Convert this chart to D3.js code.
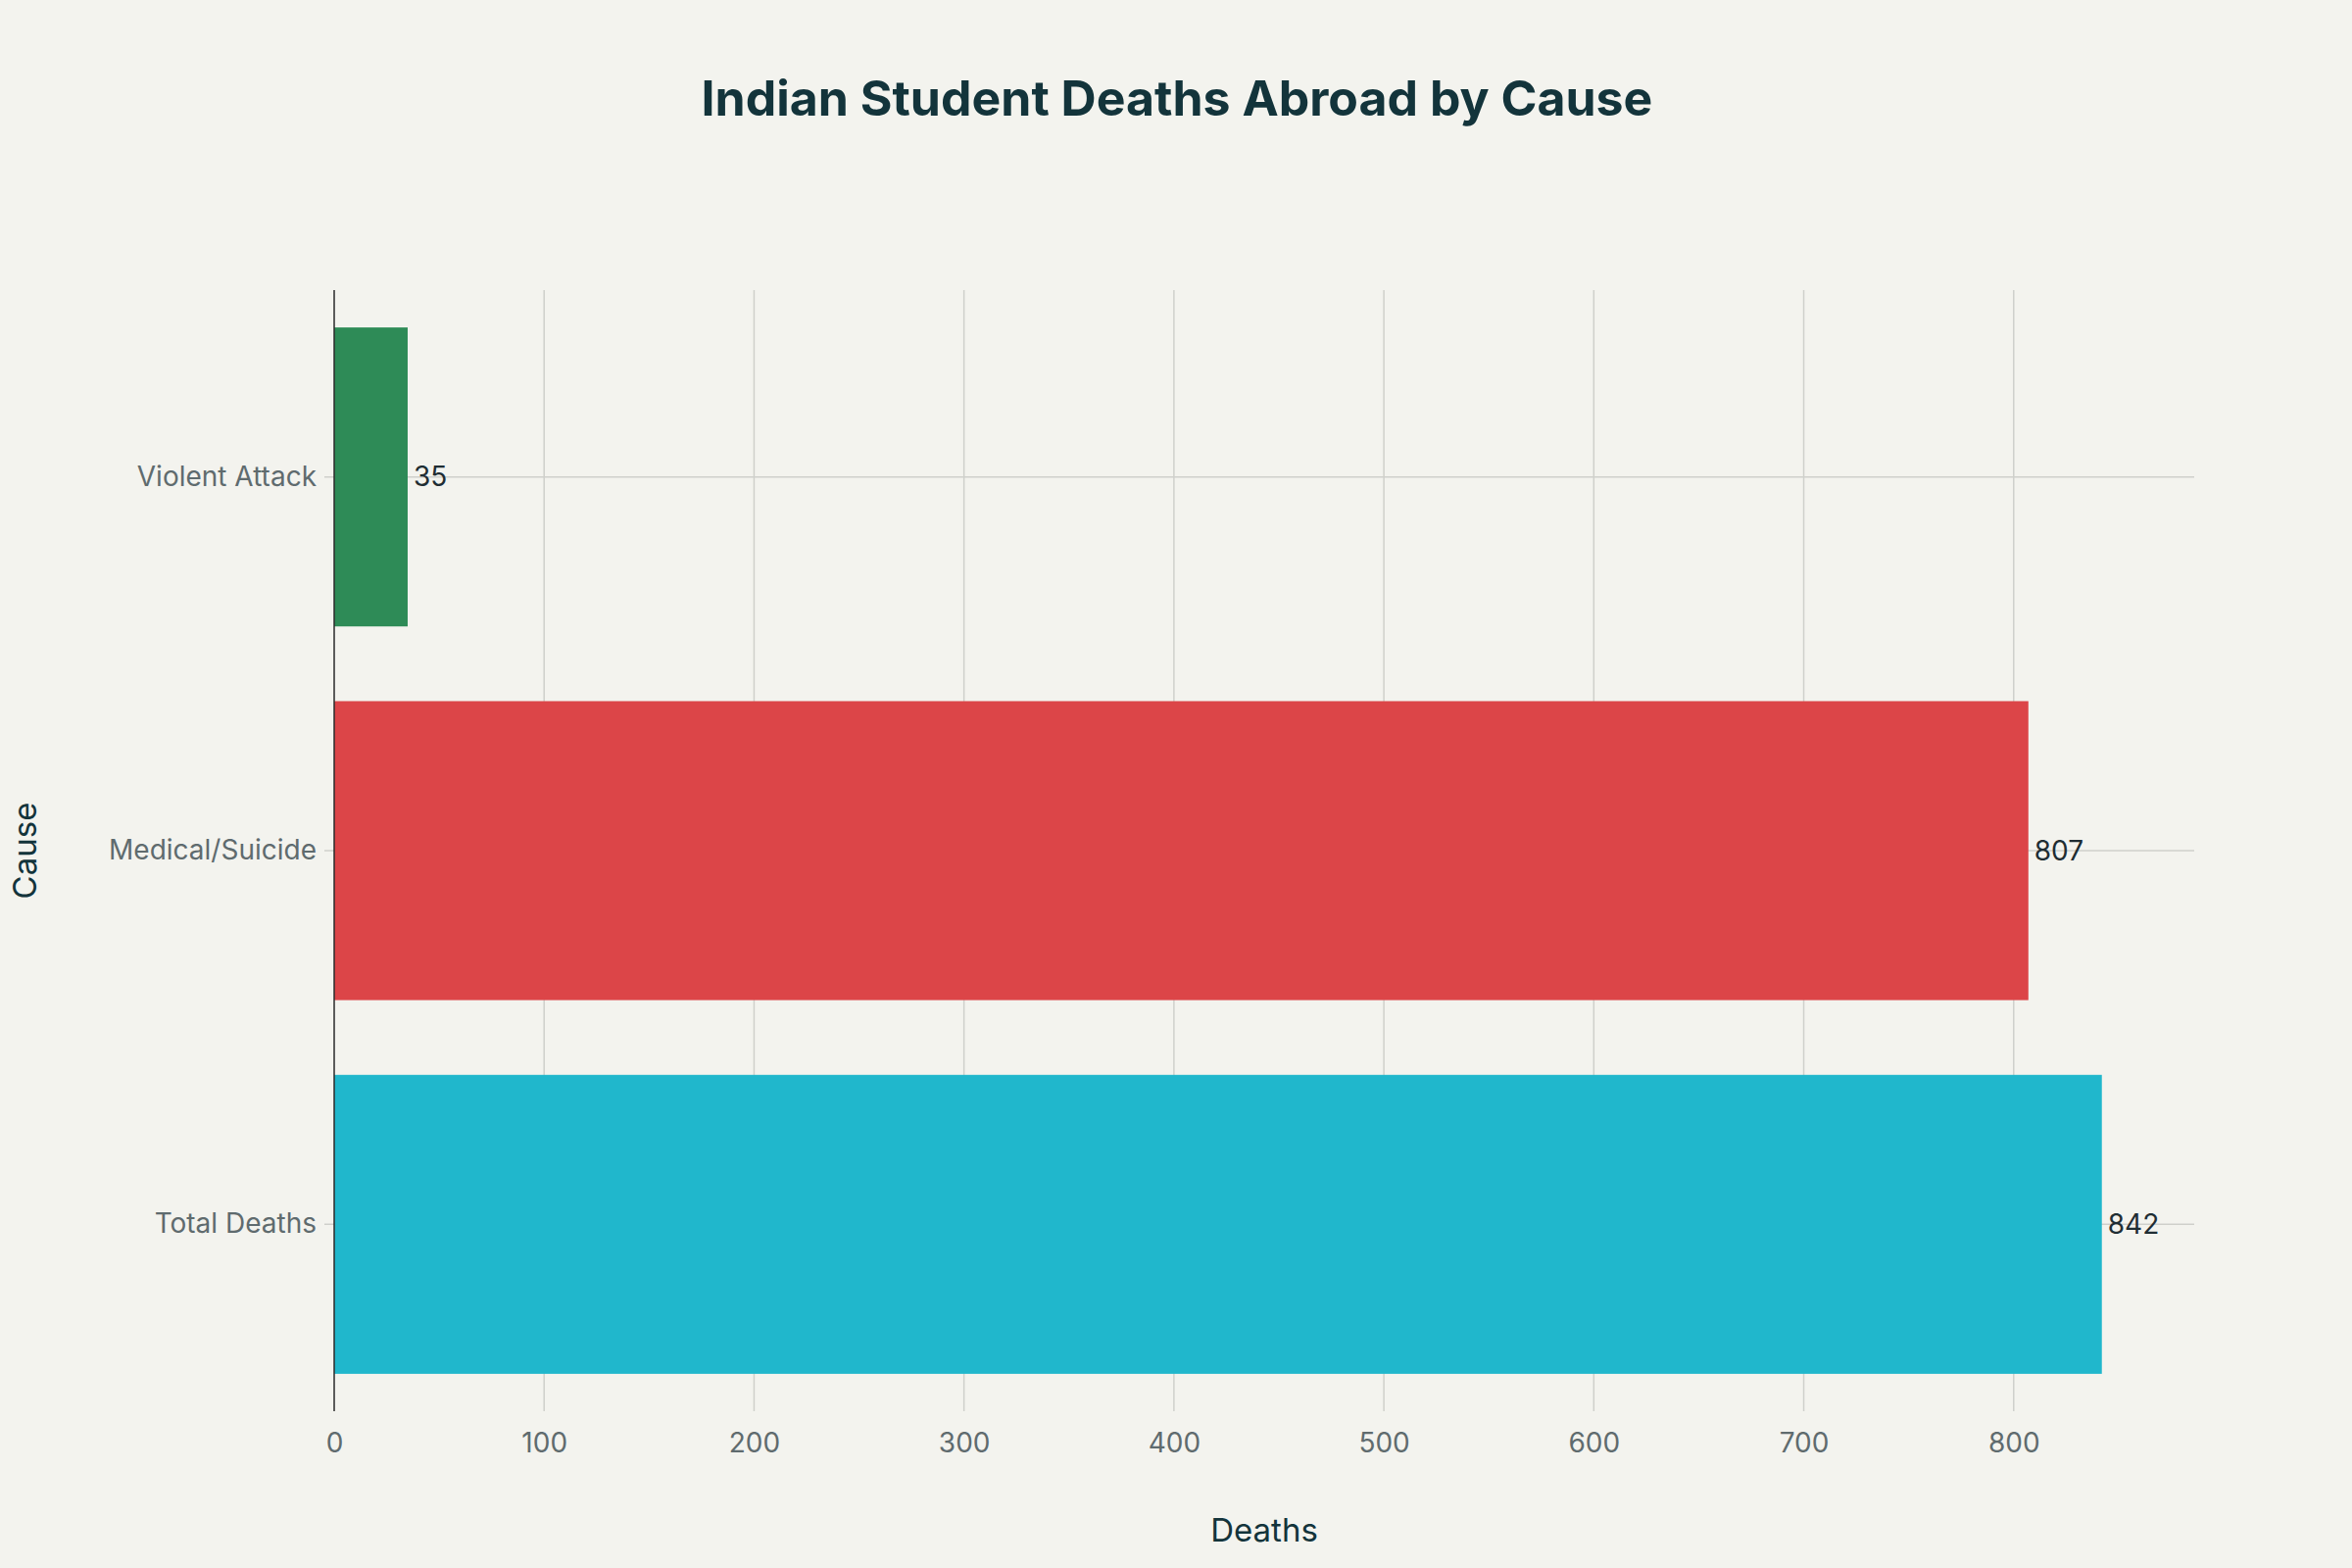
<!DOCTYPE html>
<html><head><meta charset="utf-8">
<script src="https://cdn.jsdelivr.net/npm/d3@7"></script>
<style>body{margin:0;background:#f3f3ee;}</style>
</head><body>
<svg id="c" width="2400" height="1600"></svg>
<script>
const categories = ["Violent Attack","Medical/Suicide","Total Deaths"];
const values = [35, 807, 842];
const colors = ["#2e8b57","#dc4548","#20b7cc"];
const xTicks = [0,100,200,300,400,500,600,700,800];

const svg = d3.select("#c");
svg.append("rect").attr("width",2400).attr("height",1600).attr("fill","#f3f3ee");
const m = {l:341, r:2239, t:296, b:1440};
const x = d3.scaleLinear().domain([0,886]).range([m.l,m.r]);
const y = d3.scaleBand().domain(categories).range([m.t,m.b]).paddingInner(0.2).paddingOuter(0.1);
const font = "Inter, 'Open Sans', sans-serif";

// grid
svg.append("g").selectAll("line").data(xTicks.slice(1)).join("line")
  .attr("x1",d=>x(d)).attr("x2",d=>x(d)).attr("y1",m.t).attr("y2",m.b)
  .attr("stroke","#cfd0cb").attr("stroke-width",1.5);
svg.append("g").selectAll("line").data(categories).join("line")
  .attr("x1",m.l-10).attr("x2",m.r).attr("y1",d=>y(d)+y.bandwidth()/2).attr("y2",d=>y(d)+y.bandwidth()/2)
  .attr("stroke","#cfd0cb").attr("stroke-width",1.5);

// bars
svg.append("g").selectAll("rect").data(categories).join("rect")
  .attr("x",x(0)).attr("y",d=>y(d)).attr("height",y.bandwidth())
  .attr("width",(d,i)=>x(values[i])-x(0)).attr("fill",(d,i)=>colors[i]);

// value labels
svg.append("g").selectAll("text").data(categories).join("text")
  .attr("x",(d,i)=>x(values[i])+6).attr("y",d=>y(d)+y.bandwidth()/2)
  .attr("dy","0.35em").attr("font-family",font).attr("font-size",28).attr("fill","#1f2d33")
  .text((d,i)=>values[i]);

// y axis line
svg.append("line").attr("x1",x(0)).attr("x2",x(0)).attr("y1",m.t).attr("y2",m.b)
  .attr("stroke","#2a2a2a").attr("stroke-width",1.5);

// x ticks
const xa = svg.append("g").attr("transform",`translate(0,${m.b})`)
  .call(d3.axisBottom(x).tickValues(xTicks).tickSize(0).tickPadding(22));
xa.select(".domain").remove();
xa.selectAll("text").attr("font-family",font).attr("font-size",28).attr("fill","#5f6b6e");

// y ticks
const ya = svg.append("g").attr("transform",`translate(${m.l},0)`)
  .call(d3.axisLeft(y).tickSize(0).tickPadding(18));
ya.select(".domain").remove();
ya.selectAll("text").attr("font-family",font).attr("font-size",28).attr("fill","#5f6b6e");

// titles
svg.append("text").attr("x",1201).attr("y",100).attr("dy","0.35em").attr("text-anchor","middle")
  .attr("font-family",font).attr("font-weight","bold").attr("font-size",50).attr("fill","#13343b")
  .text("Indian Student Deaths Abroad by Cause");
svg.append("text").attr("x",(m.l+m.r)/2).attr("y",1561).attr("dy","0.35em").attr("text-anchor","middle")
  .attr("font-family",font).attr("font-size",33).attr("fill","#13343b").text("Deaths");
svg.append("text").attr("transform",`translate(25,${(m.t+m.b)/2}) rotate(-90)`).attr("dy","0.35em")
  .attr("text-anchor","middle").attr("font-family",font).attr("font-size",33).attr("fill","#13343b").text("Cause");
</script>
</body></html>
